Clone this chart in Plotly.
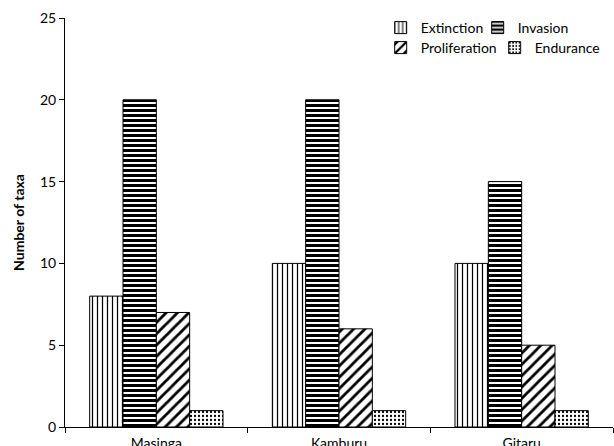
import plotly.graph_objects as go

categories = ["Masinga", "Kamburu", "Gitaru"]
extinction = [8, 10, 10]
invasion = [20, 20, 15]
proliferation = [7, 6, 5]
endurance = [1, 1, 1]
y_ticks = [0, 5, 10, 15, 20, 25]

FONT = "Lato"
FS = 14

fig = go.Figure()
specs = [
    ("Extinction", extinction, "|", 5, 0.25, "legend"),
    ("Invasion", invasion, "-", 5, 0.6, "legend"),
    ("Proliferation", proliferation, "/", 8, 0.35, "legend2"),
    ("Endurance", endurance, ".", 4, 0.25, "legend2"),
]
for name, vals, shape, size, sol, leg in specs:
    fig.add_trace(go.Bar(
        name=name, x=categories, y=vals,
        marker=dict(color="white", line=dict(color="black", width=1),
                    pattern=dict(shape=shape, size=size, solidity=sol,
                                 fgcolor="black", bgcolor="white", fillmode="replace")),
        legend=leg,
    ))

fig.update_layout(
    width=614, height=446,
    margin=dict(l=65, r=1, t=18, b=19, autoexpand=False),
    paper_bgcolor="white", plot_bgcolor="white",
    barmode="group", bargap=0.27, bargroupgap=0,
    font=dict(family=FONT, size=FS, color="black"),
    showlegend=True,
    legend=dict(orientation="h", x=0.62, xanchor="left", xref="container",
                y=1 - 12 / 446, yanchor="top", yref="container",
                font=dict(size=FS), bgcolor="rgba(0,0,0,0)", itemwidth=30,
                tracegroupgap=0, entrywidth=52),
    legend2=dict(orientation="h", x=0.62, xanchor="left", xref="container",
                 y=1 - 32 / 446, yanchor="top", yref="container",
                 font=dict(size=FS), bgcolor="rgba(0,0,0,0)", itemwidth=30,
                 tracegroupgap=0, entrywidth=69),
    xaxis=dict(showline=True, linecolor="black", linewidth=1, ticks="outside",
               tickson="boundaries", ticklen=5, tickcolor="black",
               showgrid=False, tickfont=dict(size=FS), automargin=False,
               ticklabelstandoff=3),
    yaxis=dict(range=[0, 25], tickvals=y_ticks, showline=True, linecolor="black",
               linewidth=1, ticks="outside", ticklen=5, tickcolor="black",
               showgrid=False, zeroline=False, tickfont=dict(size=FS), automargin=False,
               title=dict(text="<b>Number of taxa</b>", font=dict(size=FS), standoff=12)),
)

fig.write_html("out.html", config={"displayModeBar": False},
               post_script="document.body.style.margin='0';document.body.style.overflow='hidden';")
